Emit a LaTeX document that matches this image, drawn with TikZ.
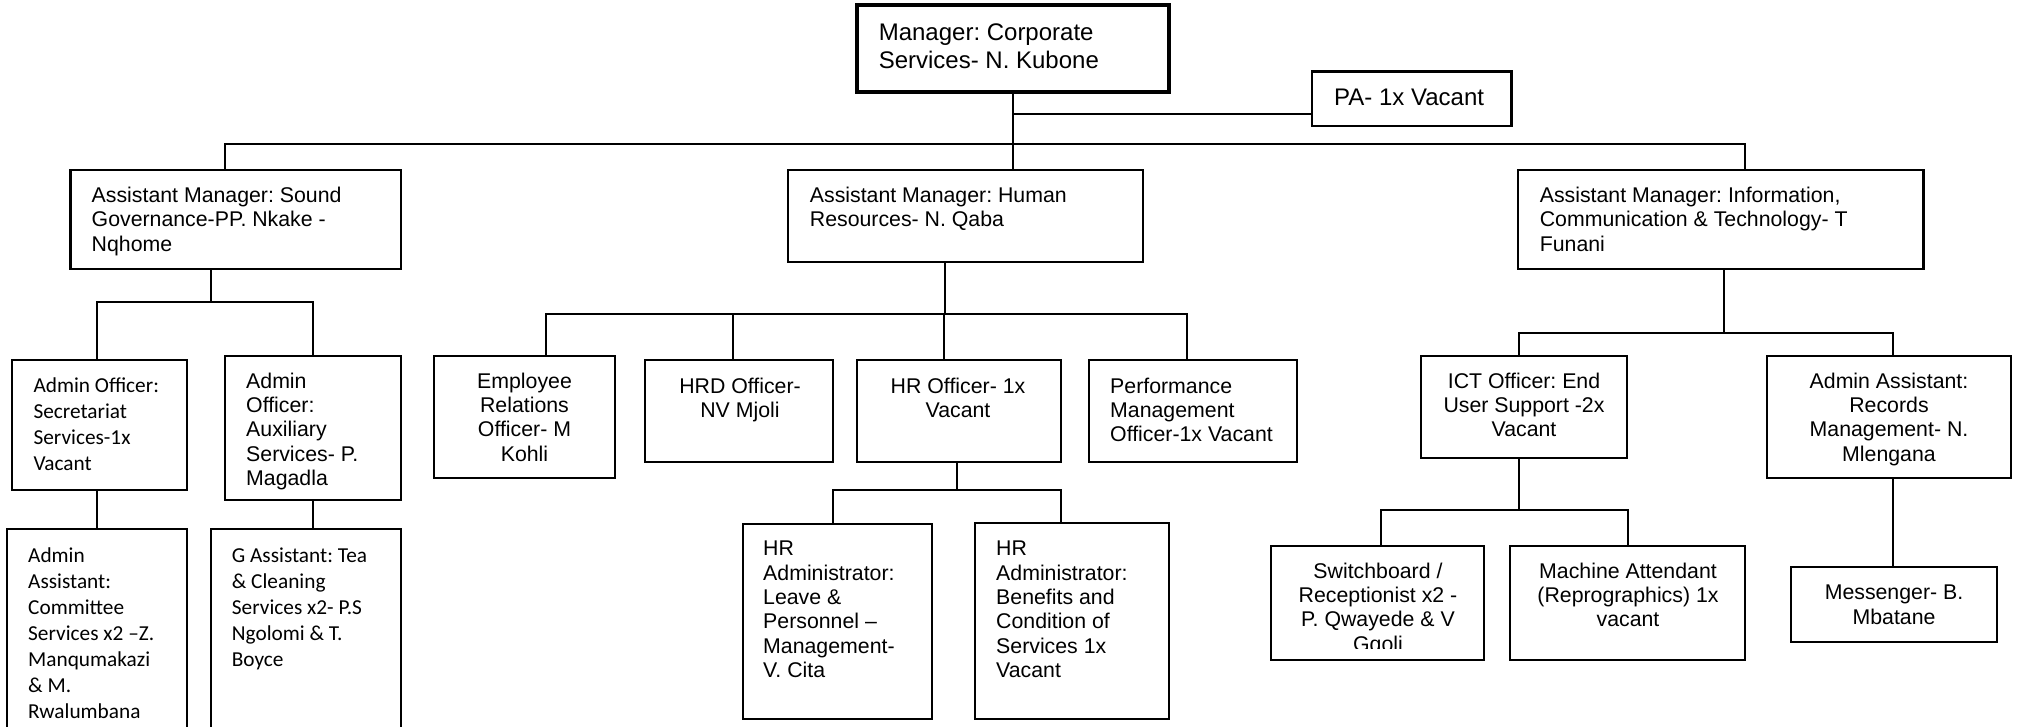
\documentclass[tikz,border=0pt]{standalone}
\usepackage{fontspec}
\setmainfont{Liberation Sans}
\newfontfamily\calfont{Carlito}
\usetikzlibrary{calc}
\frenchspacing
\tikzset{
  box/.style={draw, line width=2.6pt, rectangle, inner sep=0pt},
  bigbox/.style={box, line width=4pt},
  conn/.style={line width=2pt, line join=miter},
  txt/.style={inner sep=0pt, font=\frenchspacing\fontsize{21.3}{24.3}\selectfont},
  txtl/.style={txt, align=left, anchor=north west},
  txtc/.style={txt, align=center, anchor=north},
  big/.style={inner sep=0pt, font=\frenchspacing\fontsize{24}{27.5}\selectfont, align=left, anchor=north west},
  cal/.style={inner sep=0pt, font=\frenchspacing\calfont\fontsize{21.3}{25.9}\selectfont, align=left, anchor=north west},
}
\begin{document}
\begin{tikzpicture}[x=1pt,y=-1pt]
\useasboundingbox (0,0) rectangle (2022,727);
\clip (0,0) rectangle (2022,727);
\fill[white] (0,0) rectangle (2022,727);

% boxes
\node[bigbox, minimum width=312pt, minimum height=87pt] (mgr) at (1013,48.5) {};
\node[box, minimum width=199.5pt, minimum height=54.3pt] (pa) at (1411.75,98.85) {};
\node[box, minimum width=330.5pt, minimum height=99pt] (sgAM) at (235.75,219.5) {};
\node[box, minimum width=355pt, minimum height=92pt] (hrAM) at (965.5,216) {};
\node[box, minimum width=405.6pt, minimum height=99pt] (ictAM) at (1720.8,219.5) {};
\node[box, minimum width=175pt, minimum height=130pt] (sec) at (99.5,425) {};
\node[box, minimum width=176pt, minimum height=144pt] (aux) at (313,428) {};
\node[box, minimum width=180pt, minimum height=231pt] (adm) at (97,644.5) {};
\node[box, minimum width=190pt, minimum height=231pt] (gas) at (306,644.5) {};
\node[box, minimum width=181pt, minimum height=122pt] (er) at (524.5,417) {};
\node[box, minimum width=188pt, minimum height=102pt] (hrd) at (739,411) {};
\node[box, minimum width=204pt, minimum height=102pt] (hro) at (959,411) {};
\node[box, minimum width=208pt, minimum height=102pt] (perf) at (1193,411) {};
\node[box, minimum width=189pt, minimum height=195pt] (leave) at (837.5,621.5) {};
\node[box, minimum width=194pt, minimum height=196pt] (ben) at (1072,621) {};
\node[box, minimum width=206pt, minimum height=102pt] (icto) at (1524,407) {};
\node[box, minimum width=244pt, minimum height=122pt] (rec) at (1889,417) {};
\node[box, minimum width=213pt, minimum height=114pt] (sw) at (1377.5,603) {};
\node[box, minimum width=235pt, minimum height=114pt] (mach) at (1627.5,603) {};
\node[box, minimum width=206pt, minimum height=75pt] (mess) at (1894,604.5) {};

% bus levels
\coordinate (busA) at (0,144);
\coordinate (busSG) at (0,302);
\coordinate (busHR) at (0,314);
\coordinate (busHRO) at (0,490);
\coordinate (busICT) at (0,333);
\coordinate (busICTO) at (0,510);

% manager and PA
\draw[conn] (mgr.south) -- (mgr.south |- hrAM.north);
\coordinate (paj) at ([yshift=-15.1pt]pa.west);
\draw[conn] (paj -| mgr.south) -- (paj);

% main bus
\coordinate (sgTop) at ([xshift=-11.2pt]sgAM.north);
\coordinate (ictTop) at ([xshift=24pt]ictAM.north);
\draw[conn] (sgTop) |- (ictTop |- busA) -- (ictTop);

% sound governance branch
\coordinate (sgBot) at ([xshift=-24.75pt]sgAM.south);
\draw[conn] (sgBot) -- (sgBot |- busSG);
\coordinate (secTop) at ([xshift=-2.5pt]sec.north);
\draw[conn] (secTop) |- (aux.north |- busSG) -- (aux.north);
\draw[conn] (adm.north |- sec.south) -- (adm.north);
\draw[conn] (aux.south) -- (aux.south |- gas.north);

% HR branch
\coordinate (hrBot) at ([xshift=-20.5pt]hrAM.south);
\draw[conn] (hrBot) -- (hrBot |- busHR);
\coordinate (erTop) at ([xshift=21.5pt]er.north);
\coordinate (hrdTop) at ([xshift=-6pt]hrd.north);
\coordinate (hroTop) at ([xshift=-15pt]hro.north);
\coordinate (perfTop) at ([xshift=-6pt]perf.north);
\draw[conn] (erTop) |- (perfTop |- busHR) -- (perfTop);
\draw[conn] (hrdTop |- busHR) -- (hrdTop);
\draw[conn] (hroTop |- busHR) -- (hroTop);
\coordinate (hroBot) at ([xshift=-2pt]hro.south);
\draw[conn] (hroBot) -- (hroBot |- busHRO);
\coordinate (lvTop) at ([xshift=-4.5pt]leave.north);
\coordinate (bnTop) at ([xshift=-11pt]ben.north);
\draw[conn] (lvTop) |- (bnTop |- busHRO) -- (bnTop);

% ICT branch
\coordinate (ictBot) at ([xshift=3pt]ictAM.south);
\draw[conn] (ictBot) -- (ictBot |- busICT);
\coordinate (ictoTop) at ([xshift=-5pt]icto.north);
\coordinate (recTop) at ([xshift=4pt]rec.north);
\draw[conn] (ictoTop) |- (recTop |- busICT) -- (recTop);
\coordinate (ictoBot) at ([xshift=-5pt]icto.south);
\draw[conn] (ictoBot) -- (ictoBot |- busICTO);
\coordinate (swTop) at ([xshift=3.5pt]sw.north);
\draw[conn] (swTop) |- (mach.north |- busICTO) -- (mach.north);
\coordinate (recBot) at ([xshift=4pt]rec.south);
\draw[conn] (recBot) -- (recBot |- mess.north);

% texts
\node[big] (t-mgr) at (878.6,24) {Manager: Corporate\\Services- N. Kubone};
\node[big] (t-pa) at (1334,89) {PA- 1x Vacant};
\node[txtl] (t-sgAM) at (91.5,186.8) {Assistant Manager: Sound\\Governance-PP. Nkake -\\Nqhome};
\node[txtl] (t-hrAM) at (809.7,186.8) {Assistant Manager: Human\\Resources- N. Qaba};
\node[txtl] (t-ictAM) at (1539.6,186.8) {Assistant Manager: Information,\\Communication \& Technology- T\\Funani};
\node[cal] (t-sec) at (33.3,378) {Admin Officer:\\Secretariat\\Services-1x\\Vacant};
\node[txtl] (t-aux) at (246,372.5) {Admin\\Officer:\\Auxiliary\\Services- P.\\Magadla};
\node[cal] (t-adm) at (28,548) {Admin\\Assistant:\\Committee\\Services x2 –Z.\\Manqumakazi\\\& M.\\Rwalumbana};
\node[cal] (t-gas) at (231.7,548) {G Assistant: Tea\\\& Cleaning\\Services x2- P.S\\Ngolomi \& T.\\Boyce};
\node[txtc] (t-er) at (524.5,372.5) {Employee\\Relations\\Officer- M\\Kohli};
\node[txtc] (t-hrd) at (740,377.5) {HRD Officer-\\NV Mjoli};
\node[txtc] (t-hro) at (958,377.5) {HR Officer- 1x\\Vacant};
\node[txtl] (t-perf) at (1110,377.5) {Performance\\Management\\Officer-1x Vacant};
\node[txtl] (t-leave) at (763,541) {HR\\Administrator:\\Leave \&\\Personnel –\\Management-\\V. Cita};
\node[txtl] (t-ben) at (996,541) {HR\\Administrator:\\Benefits and\\Condition of\\Services 1x\\Vacant};
\node[txtc] (t-icto) at (1524,372.5) {ICT Officer: End\\User Support -2x\\Vacant};
\node[txtc] (t-rec) at (1889,372.5) {Admin Assistant:\\Records\\Management- N.\\Mlengana};
\begin{scope}
\clip (1271,546) rectangle (1484,648);
\node[txtc] (t-sw) at (1378,562.5) {Switchboard /\\Receptionist x2 -\\P. Qwayede \& V\\Gqoli};
\end{scope}
\node[txtc] (t-mach) at (1628,562.5) {Machine Attendant\\(Reprographics) 1x\\vacant};
\node[txtc] (t-mess) at (1894,585) {Messenger- B.\\Mbatane};
\end{tikzpicture}
\end{document}
